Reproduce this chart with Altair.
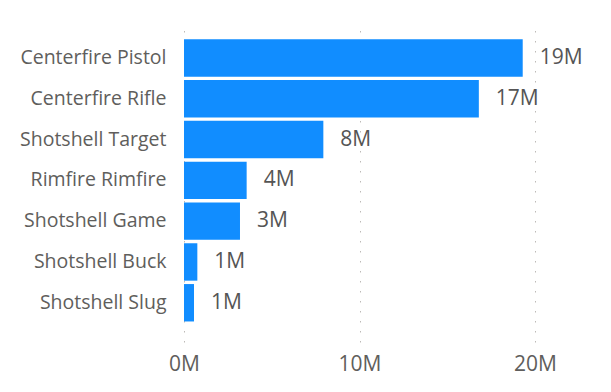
import altair as alt
import pandas as pd

categories = ["Centerfire Pistol", "Centerfire Rifle", "Shotshell Target",
              "Rimfire Rimfire", "Shotshell Game", "Shotshell Buck", "Shotshell Slug"]
values_m = [19.3, 16.8, 7.94, 3.57, 3.19, 0.76, 0.57]
x_ticks = [0, 10, 20]

df = pd.DataFrame({"category": categories, "value": values_m})
df["label"] = [f"{round(v)}M" for v in values_m]

FONT = "Segoe UI, Open Sans, sans-serif"
TXT = "#605E5C"

y_enc = alt.Y("category:N", sort=categories, title=None,
              scale=alt.Scale(paddingInner=0.083, paddingOuter=0.4265, align=0.41),
              axis=alt.Axis(domain=False, ticks=False, labelPadding=18, labelFontSize=19.5,
                            labelColor=TXT, labelFont=FONT, labelLimit=300))
x_enc = alt.X("value:Q", title=None,
              scale=alt.Scale(domain=[0, 20], nice=False, zero=True),
              axis=alt.Axis(values=x_ticks, labelExpr="datum.value + 'M'", grid=True,
                            gridDash=[1.5, 8.5], gridColor="#BDBAB7", gridWidth=1,
                            domain=False, ticks=False, labelFontSize=21, labelColor=TXT,
                            labelFont=FONT, labelPadding=11, labelFlush=False,
                            labelOverlap=False))

base = alt.Chart(df)
bars = base.mark_bar(color="#118DFF").encode(x=x_enc, y=y_enc)
labels = base.mark_text(align="left", baseline="middle", dx=17, fontSize=21,
                        color="#555555", font=FONT).encode(
    x=alt.X("value:Q"), y=alt.Y("category:N", sort=categories), text="label:N")

chart = alt.layer(bars, labels).properties(
    width=351, height=317,
    autosize=alt.AutoSizeParams(type="none"),
    padding={"left": 176, "top": 17, "right": 66, "bottom": 34},
).configure_view(stroke=None)

chart.save("out.html", embed_options={"renderer": "svg", "actions": False})
